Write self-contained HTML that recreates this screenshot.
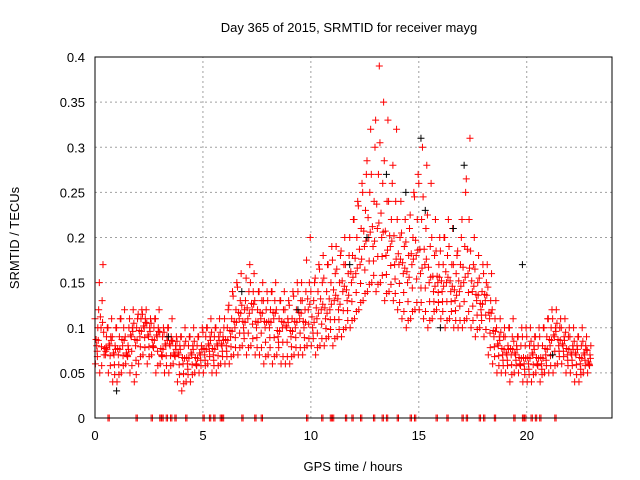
<!DOCTYPE html>
<html><head><meta charset="utf-8"><style>
body{margin:0;background:#fff;}
svg{display:block;font-family:"Liberation Sans",sans-serif;}
</style></head><body>
<svg id="chart" width="640" height="480" viewBox="0 0 640 480">
<rect width="640" height="480" fill="#fff"/>
<text x="349" y="32" text-anchor="middle" font-size="13">Day 365 of 2015, SRMTID for receiver mayg</text>
<text transform="translate(19,238) rotate(-90)" text-anchor="middle" font-size="13">SRMTID / TECUs</text>
<text x="353" y="471" text-anchor="middle" font-size="13">GPS time / hours</text>
<g id="grid"></g><g id="ticks"></g><g id="marks"></g>
<rect x="95" y="57" width="517" height="361" fill="none" stroke="#000" stroke-width="1"/>
</svg>
<script>
const xTicks=[0,5,10,15,20];
const yTicks=[0,0.05,0.1,0.15,0.2,0.25,0.3,0.35,0.4];
const yTickLabels=["0","0.05","0.1","0.15","0.2","0.25","0.3","0.35","0.4"];
const lowVals=[.06,.05,.07,.05,.04,.04,.05,.06,.05,.04,.06,.07,.06,.07,.05,.06,.05,.05,.06,.04,.03,.04,.04,.05,.05,.05,.06,.05,.05,.06,.06,.06,.07,.07,.08,.07,.08,.07,.07,.06,.07,.06,.07,.06,.06,.06,.07,.07,.07,.08,.08,.07,.08,.08,.09,.08,.09,.09,.10,.10,.11,.12,.13,.14,.15,.14,.15,.13,.14,.13,.12,.11,.10,.11,.12,.12,.11,.10,.11,.12,.11,.10,.11,.10,.10,.10,.11,.10,.09,.10,.09,.07,.06,.05,.05,.05,.04,.05,.05,.04,.04,.04,.05,.04,.05,.05,.05,.06,.06,.05,.05,.04,.04,.05,.05];
const midVals=[.08,.10,.07,.08,.07,.07,.08,.07,.09,.08,.09,.10,.09,.08,.09,.07,.08,.08,.07,.07,.06,.06,.07,.06,.07,.07,.08,.07,.08,.08,.08,.09,.10,.11,.10,.11,.12,.10,.11,.10,.10,.11,.09,.10,.10,.09,.10,.11,.10,.12,.10,.11,.12,.11,.12,.13,.12,.14,.13,.15,.16,.17,.19,.20,.19,.21,.20,.18,.19,.17,.17,.16,.15,.17,.18,.16,.17,.15,.14,.15,.14,.15,.14,.13,.14,.15,.16,.14,.13,.12,.13,.11,.09,.08,.07,.07,.07,.07,.06,.06,.06,.07,.06,.06,.07,.08,.09,.08,.08,.07,.07,.07,.06,.07,.06];
const q3Vals=[.10,.13,.09,.09,.08,.09,.10,.08,.10,.10,.11,.11,.10,.10,.10,.09,.09,.09,.08,.08,.08,.08,.08,.08,.08,.09,.09,.09,.09,.09,.10,.11,.12,.13,.12,.14,.14,.12,.13,.12,.12,.13,.11,.12,.11,.11,.12,.13,.12,.15,.13,.14,.15,.14,.15,.16,.15,.17,.16,.18,.20,.21,.23,.25,.24,.27,.26,.24,.22,.24,.20,.19,.18,.20,.22,.22,.21,.19,.18,.17,.17,.18,.17,.16,.17,.19,.22,.17,.15,.14,.15,.13,.11,.09,.09,.08,.09,.08,.08,.08,.08,.08,.08,.08,.09,.10,.10,.10,.09,.09,.08,.08,.08,.08,.07];
const highVals=[.12,.17,.10,.11,.10,.11,.12,.10,.12,.11,.12,.12,.11,.11,.12,.10,.10,.11,.09,.09,.10,.09,.10,.09,.10,.10,.11,.10,.11,.10,.12,.14,.15,.16,.13,.17,.16,.14,.15,.14,.14,.15,.13,.14,.13,.14,.15,.15,.14,.20,.15,.17,.18,.17,.19,.19,.18,.20,.18,.22,.24,.26,.27,.32,.30,.39,.35,.33,.26,.32,.24,.22,.21,.25,.27,.30,.28,.26,.22,.20,.20,.22,.21,.18,.20,.25,.31,.20,.18,.17,.17,.16,.13,.11,.10,.10,.11,.09,.10,.10,.10,.09,.10,.10,.11,.12,.12,.11,.11,.10,.10,.09,.10,.09,.08];
const blackTimes=[1.0,3.4,6.8,9.4,11.8,12.6,13.5,14.4,15.1,15.3,16.0,16.6,17.1,19.8,21.2];
const blackVals=[.03,.09,.14,.12,.17,.20,.27,.25,.31,.23,.10,.21,.28,.17,.07];
const zeroTimes=[0.6,1.9,2.6,3.0,3.1,3.3,3.5,3.7,4.2,5.0,5.3,5.5,5.8,5.9,6.8,7.4,7.7,9.8,10.5,10.9,11.0,11.6,11.9,12.3,12.9,13.3,13.5,14.0,14.6,14.8,15.8,16.3,17.0,17.2,17.8,18.0,18.5,19.4,19.8,19.9,20.2,20.4,20.6,21.3];
const X0=95,X1=612,Y0=418,Y1=57,XMAX=23.95,YMAX=0.4;
const xs=v=>X0+(X1-X0)*v/XMAX;
const ys=v=>Y0-(Y0-Y1)*v/YMAX;
const NS="http://www.w3.org/2000/svg";
function mk(tag,attrs,parent){const e=document.createElementNS(NS,tag);for(const k in attrs)e.setAttribute(k,attrs[k]);parent.appendChild(e);return e;}
const grid=document.getElementById('grid'),ticks=document.getElementById('ticks'),marks=document.getElementById('marks');
xTicks.forEach(t=>{const x=xs(t);
 if(t>0){const g=mk('line',{x1:x,x2:x,y1:Y0,y2:Y1,stroke:'#a0a0a0','stroke-dasharray':'2,3'},grid);
 }
 const l=mk('text',{x:x,y:Y0+22,'text-anchor':'middle','font-size':'13'},ticks);l.textContent=t;
 });
yTicks.forEach((t,i)=>{const y=ys(t);
 if(t>0){const g=mk('line',{x1:X0,x2:X1,y1:y,y2:y,stroke:'#a0a0a0','stroke-dasharray':'2,3'},grid);
 }
 const l=mk('text',{x:X0-10,y:y+5,'text-anchor':'end','font-size':'13'},ticks);l.textContent=yTickLabels[i];
 });
function plus(t,v,color,name){const x=xs(t),y=ys(v);
 const p=mk('path',{d:`M${x-3.5},${y}h7M${x},${y-3.5}v7`,stroke:color,'stroke-width':1,fill:'none'},marks);
 }
const series=[lowVals,midVals,q3Vals,highVals];
const offs=[0.02,0.08,0.13,0.17];
series.forEach((arr,s)=>arr.forEach((v,i)=>plus(i*0.2+offs[s],v,'#ff0000','srmtid-point')));
midVals.forEach((v,i)=>plus(i*0.2+0.1,(v+lowVals[i])/2+0.004,'#ff0000','srmtid-point'));
q3Vals.forEach((v,i)=>plus(i*0.2+0.05,(v+midVals[i])/2-0.003,'#ff0000','srmtid-point'));
midVals.forEach((v,i)=>plus(i*0.2+0.15,v+0.006,'#ff0000','srmtid-point'));
lowVals.forEach((v,i)=>plus(i*0.2+0.11,v+0.008,'#ff0000','srmtid-point'));
q3Vals.forEach((v,i)=>plus(i*0.2+0.0,(v+highVals[i])/2,'#ff0000','srmtid-point'));
blackTimes.forEach((t,i)=>plus(t,blackVals[i],'#000000','srmtid-point-black'));
zeroTimes.forEach(t=>{plus(t,0,'#ff0000','zero-point');plus(t+0.06,0,'#ff0000','zero-point');});
</script>
</body></html>
